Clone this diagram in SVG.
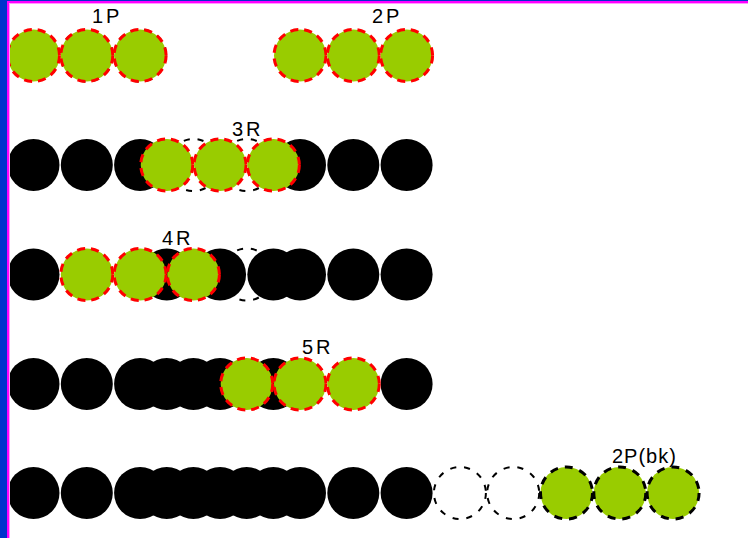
<svg xmlns="http://www.w3.org/2000/svg" width="748" height="538" viewBox="0 0 748 538">
<style>
.blk{fill:#000}
.emp{fill:#fff;stroke:#000;stroke-width:2;stroke-dasharray:6 8}
.grn{fill:#99CC00;stroke:#FF0000;stroke-width:3;stroke-dasharray:8 6}
.grk{fill:#99CC00;stroke:#000;stroke-width:3;stroke-dasharray:8 7}
.lbl{font-family:"Liberation Sans",Arial,sans-serif;font-size:20px;fill:#000;letter-spacing:3px}
</style>
<rect width="748" height="538" fill="#fff"/>
<g id="connectors"/>
<!-- Row 1 -->
<g id="row1" transform="translate(0,55.5)">
  <g id="r1-e1"><circle class="emp" cx="86.8" cy="0" r="26"/></g>
  <g id="r1-e2"><circle class="emp" cx="140.1" cy="0" r="26"/></g>
  <g id="r1-g1"><circle class="grn" cx="33.5" cy="0" r="26"/></g>
  <g id="r1-g2"><circle class="grn" cx="86.8" cy="0" r="26"/></g>
  <g id="r1-g3"><circle class="grn" cx="140.1" cy="0" r="26"/></g>
  <g id="r1-g4"><circle class="grn" cx="300" cy="0" r="26"/></g>
  <g id="r1-g5"><circle class="grn" cx="353.3" cy="0" r="26"/></g>
  <g id="r1-g6"><circle class="grn" cx="406.6" cy="0" r="26"/></g>
</g>
<text class="lbl" x="92" y="23">1P</text>
<text class="lbl" x="372" y="23">2P</text>
<!-- Row 2 -->
<g id="row2" transform="translate(0,165)">
  <g id="r2-e1"><circle class="emp" cx="193.4" cy="0" r="26"/></g>
  <g id="r2-e2"><circle class="emp" cx="246.7" cy="0" r="26"/></g>
  <g id="r2-b1"><circle class="blk" cx="33.5" cy="0" r="26"/></g>
  <g id="r2-b2"><circle class="blk" cx="86.8" cy="0" r="26"/></g>
  <g id="r2-b3"><circle class="blk" cx="140.1" cy="0" r="26"/></g>
  <g id="r2-b4"><circle class="blk" cx="300" cy="0" r="26"/></g>
  <g id="r2-b5"><circle class="blk" cx="353.3" cy="0" r="26"/></g>
  <g id="r2-b6"><circle class="blk" cx="406.6" cy="0" r="26"/></g>
  <g id="r2-g1"><circle class="grn" cx="166.75" cy="0" r="26"/></g>
  <g id="r2-g2"><circle class="grn" cx="220.05" cy="0" r="26"/></g>
  <g id="r2-g3"><circle class="grn" cx="273.35" cy="0" r="26"/></g>
</g>
<text class="lbl" x="232" y="136">3R</text>
<!-- Row 3 -->
<g id="row3" transform="translate(0,274.5)">
  <g id="r3-e1"><circle class="emp" cx="246.7" cy="0" r="26"/></g>
  <g id="r3-b1"><circle class="blk" cx="33.5" cy="0" r="26"/></g>
  <g id="r3-b2"><circle class="blk" cx="166.75" cy="0" r="26"/></g>
  <g id="r3-b3"><circle class="blk" cx="220.05" cy="0" r="26"/></g>
  <g id="r3-b4"><circle class="blk" cx="273.35" cy="0" r="26"/></g>
  <g id="r3-b5"><circle class="blk" cx="300" cy="0" r="26"/></g>
  <g id="r3-b6"><circle class="blk" cx="353.3" cy="0" r="26"/></g>
  <g id="r3-b7"><circle class="blk" cx="406.6" cy="0" r="26"/></g>
  <g id="r3-g1"><circle class="grn" cx="86.8" cy="0" r="26"/></g>
  <g id="r3-g2"><circle class="grn" cx="140.1" cy="0" r="26"/></g>
  <g id="r3-g3"><circle class="grn" cx="193.4" cy="0" r="26"/></g>
</g>
<text class="lbl" x="162" y="245">4R</text>
<!-- Row 4 -->
<g id="row4" transform="translate(0,384)">
  <g id="r4-b1"><circle class="blk" cx="33.5" cy="0" r="26"/></g>
  <g id="r4-b2"><circle class="blk" cx="86.8" cy="0" r="26"/></g>
  <g id="r4-b3"><circle class="blk" cx="140.1" cy="0" r="26"/></g>
  <g id="r4-b4"><circle class="blk" cx="166.75" cy="0" r="26"/></g>
  <g id="r4-b5"><circle class="blk" cx="193.4" cy="0" r="26"/></g>
  <g id="r4-b6"><circle class="blk" cx="220.05" cy="0" r="26"/></g>
  <g id="r4-b7"><circle class="blk" cx="273.35" cy="0" r="26"/></g>
  <g id="r4-b8"><circle class="blk" cx="406.6" cy="0" r="26"/></g>
  <g id="r4-g1"><circle class="grn" cx="246.7" cy="0" r="26"/></g>
  <g id="r4-g2"><circle class="grn" cx="300" cy="0" r="26"/></g>
  <g id="r4-g3"><circle class="grn" cx="353.3" cy="0" r="26"/></g>
</g>
<text class="lbl" x="302" y="354">5R</text>
<!-- Row 5 -->
<g id="row5" transform="translate(0,493)">
  <g id="r5-b1"><circle class="blk" cx="33.5" cy="0" r="26"/></g>
  <g id="r5-b2"><circle class="blk" cx="86.8" cy="0" r="26"/></g>
  <g id="r5-b3"><circle class="blk" cx="140.1" cy="0" r="26"/></g>
  <g id="r5-b4"><circle class="blk" cx="166.75" cy="0" r="26"/></g>
  <g id="r5-b5"><circle class="blk" cx="193.4" cy="0" r="26"/></g>
  <g id="r5-b6"><circle class="blk" cx="220.05" cy="0" r="26"/></g>
  <g id="r5-b7"><circle class="blk" cx="246.7" cy="0" r="26"/></g>
  <g id="r5-b8"><circle class="blk" cx="273.35" cy="0" r="26"/></g>
  <g id="r5-b9"><circle class="blk" cx="300" cy="0" r="26"/></g>
  <g id="r5-b10"><circle class="blk" cx="353.3" cy="0" r="26"/></g>
  <g id="r5-b11"><circle class="blk" cx="406.6" cy="0" r="26"/></g>
  <g id="r5-e1"><circle class="emp" cx="459.9" cy="0" r="26"/></g>
  <g id="r5-e2"><circle class="emp" cx="513.2" cy="0" r="26"/></g>
  <g id="r5-g1"><circle class="grk" cx="566.5" cy="0" r="26"/></g>
  <g id="r5-g2"><circle class="grk" cx="619.8" cy="0" r="26"/></g>
  <g id="r5-g3"><circle class="grk" cx="673.1" cy="0" r="26"/></g>
</g>
<text class="lbl" x="612" y="463" style="letter-spacing:1px">2P(bk)</text>
<!-- frame -->
<g id="frame">
  <rect x="0" y="0" width="748" height="1" fill="#0033CC"/>
  <rect x="7" y="1" width="741" height="2" fill="#FF00FF"/>
  <rect x="9" y="3" width="739" height="1" fill="#FF99FF"/>
  <rect x="7" y="1" width="2" height="537" fill="#FF00FF"/>
  <rect x="9" y="3" width="1" height="535" fill="#FF99FF"/>
  <rect x="0" y="0" width="7" height="538" fill="#0033CC"/>
</g>
</svg>
